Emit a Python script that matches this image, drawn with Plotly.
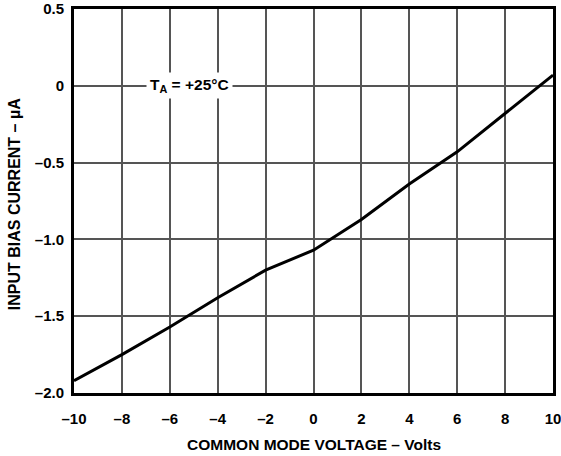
import plotly.graph_objects as go

voltage = [-10, -8, -6, -4, -2, 0, 2, 4, 6, 8, 10]
bias_current = [-1.92, -1.75, -1.57, -1.38, -1.20, -1.07, -0.87, -0.64, -0.43, -0.18, 0.07]

x_ticks = [-10, -8, -6, -4, -2, 0, 2, 4, 6, 8, 10]
x_labels = ["–10", "–8", "–6", "–4", "–2", "0", "2", "4", "6", "8", "10"]
y_ticks = [0.5, 0, -0.5, -1.0, -1.5, -2.0]
y_labels = ["0.5", "0", "–0.5", "–1.0", "–1.5", "–2.0"]

FAM = "Liberation Sans, Arial, sans-serif"
font = dict(family=FAM, size=14, color="black")

fig = go.Figure()
fig.add_trace(go.Scatter(x=voltage, y=bias_current, mode="lines",
                         line=dict(color="black", width=3), showlegend=False))

fig.add_annotation(x=-5.17, y=0, text="<b>T<sub>A</sub> = +25°C</b>", showarrow=False,
                   bgcolor="white", font=dict(family=FAM, size=15.5, color="black"),
                   borderpad=3)

# axis titles
fig.add_annotation(xref="paper", yref="paper", x=0.5, y=-0.135, yanchor="middle",
                   text="<b>COMMON MODE VOLTAGE – Volts</b>", showarrow=False,
                   font=dict(family=FAM, size=15.5, color="black"))
fig.add_annotation(xref="paper", yref="paper", x=-0.125, y=0.492, xanchor="center",
                   yanchor="middle",
                   text="<b>INPUT BIAS CURRENT – µA</b>", showarrow=False, textangle=-90,
                   font=dict(family=FAM, size=16, color="black"))

fig.update_layout(
    width=561, height=456,
    margin=dict(l=74, r=8, t=9, b=63, autoexpand=False),
    paper_bgcolor="white", plot_bgcolor="white",
    font=font,
)
fig.update_xaxes(range=[-10, 10], tickvals=x_ticks, ticktext=[f"<b>{t}</b>" for t in x_labels],
                 tickfont=dict(family=FAM, size=15, color="black"),
                 showgrid=True, gridcolor="#555555", gridwidth=1.5,
                 showline=True, linecolor="black", linewidth=3, mirror=True,
                 ticks="", zeroline=False, ticklabelstandoff=10, automargin=False,
                 ticklabeloverflow="allow")
fig.update_yaxes(range=[-2.0, 0.5], tickvals=y_ticks, ticktext=[f"<b>{t}</b>" for t in y_labels],
                 tickfont=dict(family=FAM, size=15, color="black"),
                 showgrid=True, gridcolor="#555555", gridwidth=1.5,
                 showline=True, linecolor="black", linewidth=3, mirror=True,
                 ticks="", zeroline=False, ticklabelstandoff=4, automargin=False,
                 ticklabeloverflow="allow")

fig.write_html("out.html", config={"displayModeBar": False},
               post_script="document.body.style.margin='0';")
